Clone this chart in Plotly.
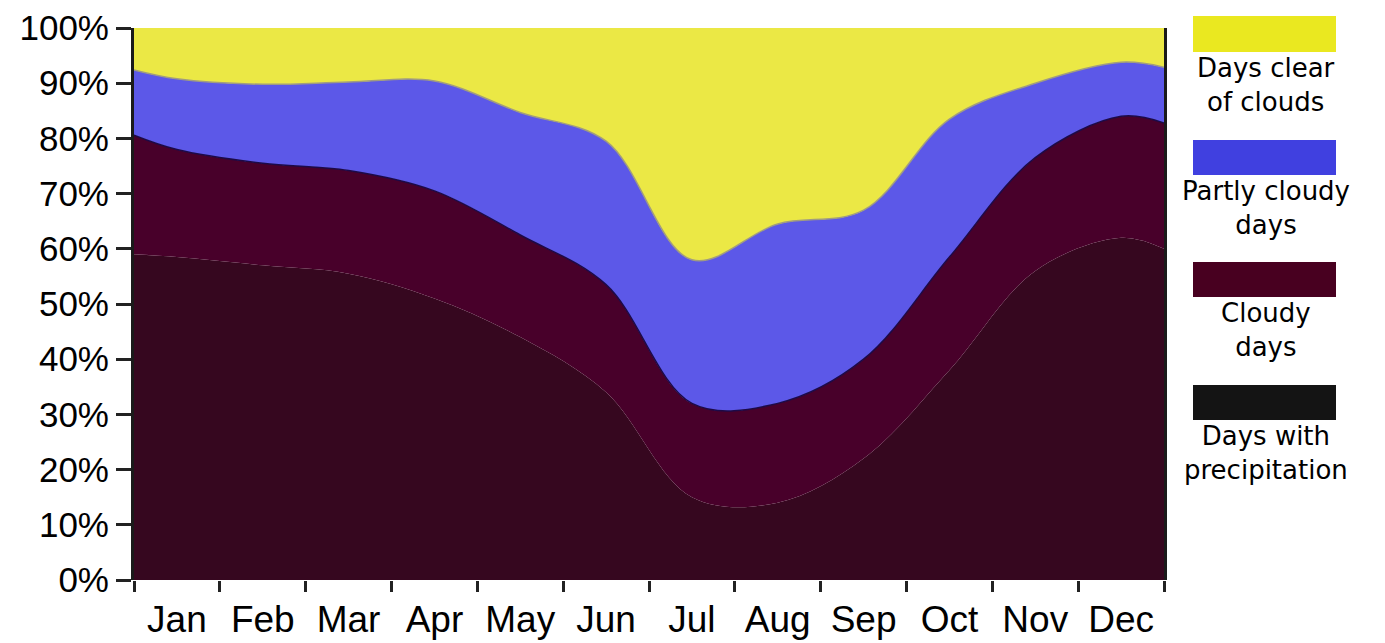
import plotly.graph_objects as go

# Month grid positions (0 = start of Jan, 12 = end of Dec; .5 = mid-month)
x_pos = [0, 0.5, 1.5, 2.5, 3.5, 4.5, 5.5, 6.5, 7.5, 8.5, 9.5, 10.5, 11.5, 12]
months = ["Jan", "Feb", "Mar", "Apr", "May", "Jun", "Jul", "Aug", "Sep", "Oct", "Nov", "Dec"]
month_centers = [0.5, 1.5, 2.5, 3.5, 4.5, 5.5, 6.5, 7.5, 8.5, 9.5, 10.5, 11.5]

# Percent of days (stacked, bottom to top)
precip = [59, 58.5, 57, 55.5, 51, 44, 34, 15, 14, 22, 38, 56, 62, 60]
cloudy = [21.6, 19.5, 18.5, 18.7, 19.5, 18.5, 19.5, 17, 18, 18, 20.5, 20.5, 22, 22.8]
partly = [11.8, 12.8, 14.3, 16.0, 19.9, 22.2, 26.0, 26.0, 32.5, 27.0, 25.0, 13.5, 9.8, 10.1]
clear = [7.6, 9.2, 10.2, 9.8, 9.6, 15.3, 20.5, 42.0, 35.5, 33.0, 16.5, 10.0, 6.2, 7.1]

y_ticks = [0, 10, 20, 30, 40, 50, 60, 70, 80, 90, 100]
y_labels = [f"{v}%" for v in y_ticks]

series = [
    ("Days with precipitation", precip, "#36071f", "#36071f", 0),
    ("Cloudy days", cloudy, "#48002a", "#1c0a48", 1.5),
    ("Partly cloudy days", partly, "#5c58e8", "#a09c80", 1.5),
    ("Days clear of clouds", clear, "#ebe845", "#ebe845", 0),
]

fig = go.Figure()
for name, vals, fillc, linec, lw in series:
    fig.add_trace(go.Scatter(
        x=x_pos, y=vals, name=name, mode="lines",
        stackgroup="one", fillcolor=fillc,
        line=dict(color=linec, width=lw, shape="spline", smoothing=1.0),
        showlegend=False,
    ))

font_family = "Liberation Sans, Arial, sans-serif"

fig.update_layout(
    width=1377, height=635,
    margin=dict(l=126, r=221, t=20, b=63),
    paper_bgcolor="white", plot_bgcolor="white",
    showlegend=False,
    xaxis=dict(
        range=[0, 12], tickmode="array", tickvals=month_centers, ticktext=months,
        ticks="", showgrid=False, zeroline=False, showline=False, automargin=False,
        tickfont=dict(family=font_family, size=37, color="#000"),
        ticklabelstandoff=14,
        minor=dict(tickmode="array", tickvals=list(range(13)), ticks="outside",
                   ticklen=11, tickwidth=3, tickcolor="#222", showgrid=False),
    ),
    yaxis=dict(
        range=[0, 100], tickmode="array", tickvals=y_ticks, ticktext=y_labels,
        ticks="outside", ticklen=15, tickwidth=3, tickcolor="#222",
        showgrid=False, zeroline=False, automargin=False,
        showline=True, linewidth=3, linecolor="#1a1a1a", mirror=True,
        tickfont=dict(family=font_family, size=35, color="#000"),
    ),
)

# Custom legend on the right (boxes + centred text)
legend_items = [
    ("#eae820", 16, 52, "Days clear<br>of clouds"),
    ("#4040e0", 140, 175, "Partly cloudy<br>days"),
    ("#480020", 262, 297, "Cloudy<br>days"),
    ("#141414", 385, 420, "Days with<br>precipitation"),
]
x0, x1 = 1193, 1336
xc = 1266
for color, ytop, ybot, txt in legend_items:
    fig.add_shape(type="rect", xref="paper", yref="paper",
                  x0=(x0 - 134) / 1030.0, x1=(x1 - 134) / 1030.0,
                  y0=(580 - ybot) / 552.0, y1=(580 - ytop) / 552.0,
                  fillcolor=color, line=dict(width=0))
    fig.add_annotation(xref="paper", yref="paper",
                       x=(xc - 134) / 1030.0, y=(580 - (ybot - 1)) / 552.0,
                       text=txt, showarrow=False, xanchor="center", yanchor="top",
                       align="center",
                       font=dict(family="DejaVu Sans, sans-serif", size=26, color="#000"))

fig.write_html("out.html")
